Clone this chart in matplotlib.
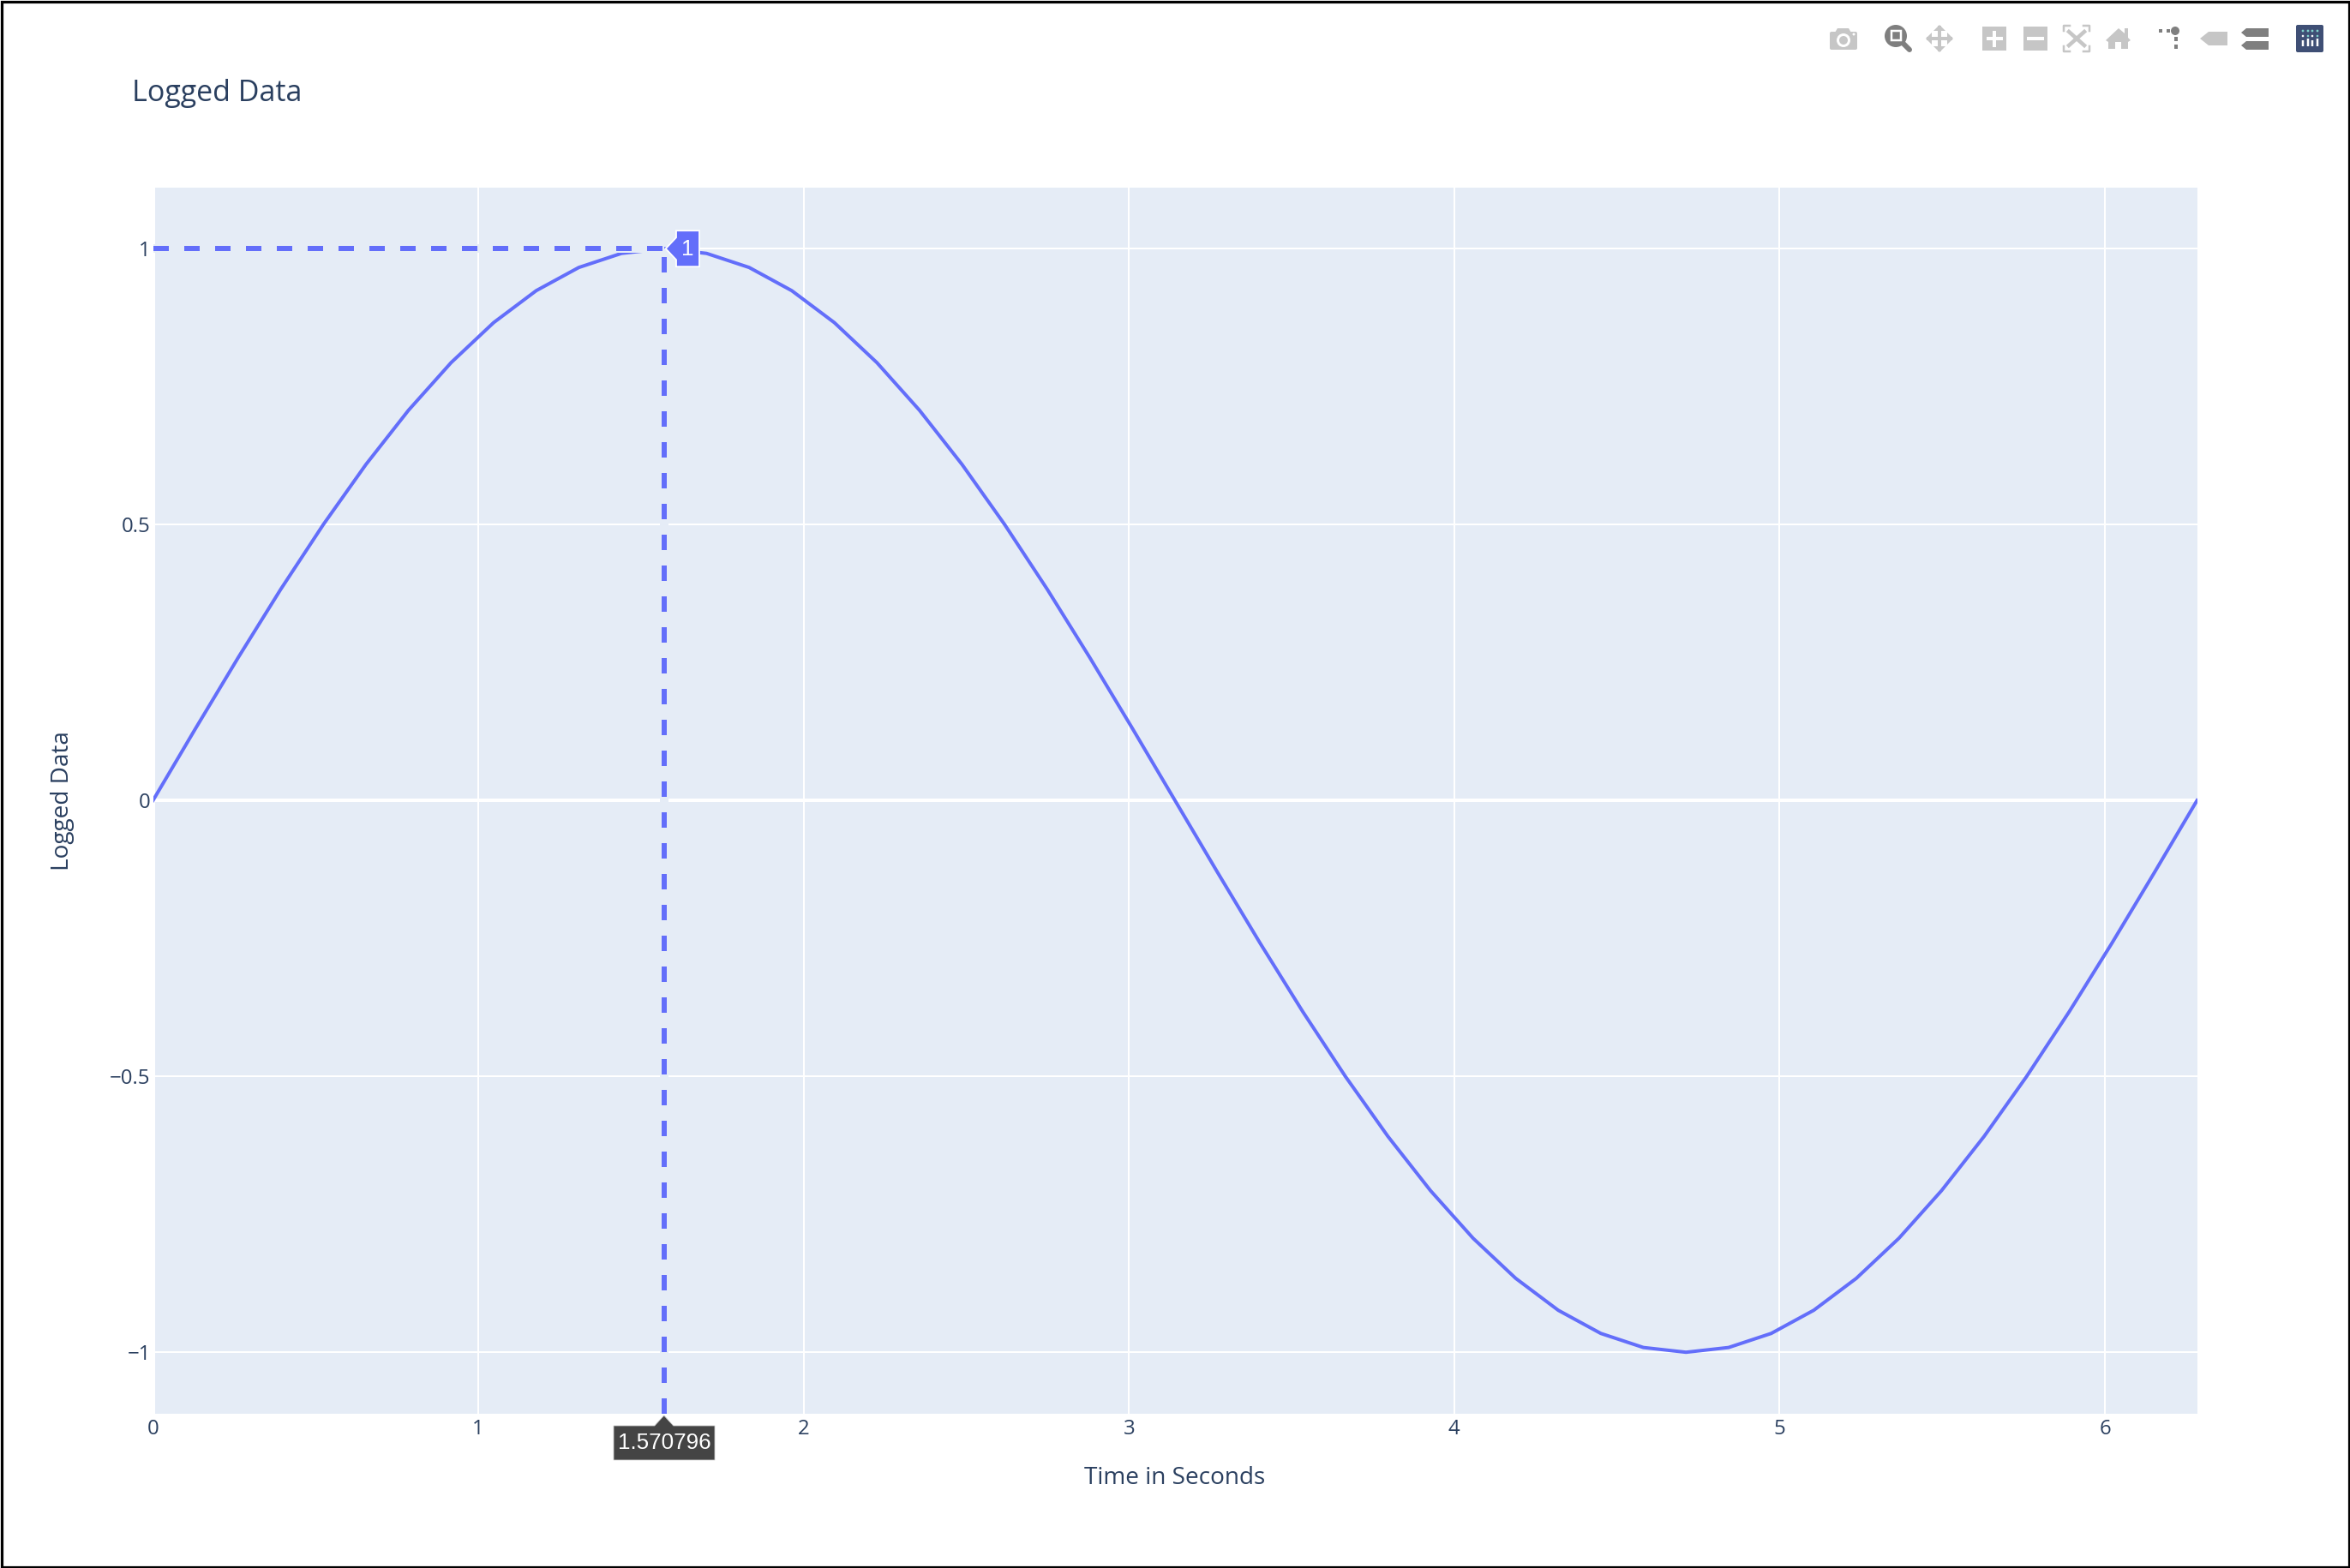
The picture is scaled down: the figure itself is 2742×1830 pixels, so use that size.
import matplotlib
matplotlib.use("Agg")
import matplotlib.pyplot as plt
from matplotlib.patches import Polygon, Rectangle, Circle, FancyBboxPatch

W, H = 2742, 1830
DPI = 100
PX = 72 / DPI

# ---- data ----
time_s = [0.0, 0.1309, 0.2618, 0.3927, 0.5236, 0.6545, 0.7854, 0.9163, 1.0472, 1.1781,
          1.309, 1.4399, 1.5708, 1.7017, 1.8326, 1.9635, 2.0944, 2.2253, 2.3562, 2.4871,
          2.618, 2.7489, 2.8798, 3.0107, 3.1416, 3.2725, 3.4034, 3.5343, 3.6652, 3.7961,
          3.927, 4.0579, 4.1888, 4.3197, 4.4506, 4.5815, 4.7124, 4.8433, 4.9742, 5.1051,
          5.236, 5.3669, 5.4978, 5.6287, 5.7596, 5.8905, 6.0214, 6.1523, 6.2832]
logged = [0.0, 0.1305, 0.2588, 0.3827, 0.5, 0.6088, 0.7071, 0.7934, 0.866, 0.9239,
          0.9659, 0.9914, 1.0, 0.9914, 0.9659, 0.9239, 0.866, 0.7934, 0.7071, 0.6088,
          0.5, 0.3827, 0.2588, 0.1305, 0.0, -0.1305, -0.2588, -0.3827, -0.5, -0.6088,
          -0.7071, -0.7934, -0.866, -0.9239, -0.9659, -0.9914, -1.0, -0.9914, -0.9659, -0.9239,
          -0.866, -0.7934, -0.7071, -0.6088, -0.5, -0.3827, -0.2588, -0.1305, 0.0]
x_ticks = [0, 1, 2, 3, 4, 5, 6]
x_labels = ["0", "1", "2", "3", "4", "5", "6"]
y_ticks = [-1, -0.5, 0, 0.5, 1]
y_labels = ["\u22121", "\u22120.5", "0", "0.5", "1"]
spike_x = 1.570796
spike_y = 1.0
spike_x_label = "1.570796"
spike_y_label = "1"
title = "Logged Data"
x_title = "Time in Seconds"
y_title = "Logged Data"

TRACE = "#636efa"
BG = "#e5ecf6"
INK = "#2a3f5f"
FONT = "Open Sans"

fig = plt.figure(figsize=(W / DPI, H / DPI), dpi=DPI, facecolor="white")

# plot area in pixels
L, R, T, B = 178.5, 2563.5, 219, 1650
XMAX = 6.2832
YUNIT = 644.0
YC = 934.2
ymax = (YC - T) / YUNIT
ymin = (YC - B) / YUNIT
ax = fig.add_axes([L / W, 1 - B / H, (R - L) / W, (B - T) / H], facecolor=BG)
ax.set_xlim(0, XMAX)
ax.set_ylim(ymin, ymax)
for s in ax.spines.values():
    s.set_visible(False)
ax.set_xticks(x_ticks)
ax.set_xticklabels(x_labels, fontsize=24 * PX, color=INK, family=FONT)
ax.set_yticks(y_ticks)
ax.set_yticklabels(y_labels, fontsize=24 * PX, color=INK, family=FONT)
ax.tick_params(axis="x", length=0, pad=4)
ax.tick_params(axis="y", length=0, pad=2)
ax.grid(True, color="white", lw=2 * PX, zorder=1)
ax.set_axisbelow(True)
ax.axhline(0, color="white", lw=4 * PX, zorder=1.5)
ax.axvline(0, color="white", lw=4 * PX, zorder=1.5)

ax.plot(time_s, logged, color=TRACE, lw=4 * PX, zorder=3, solid_joinstyle="round", clip_on=True)

# spike lines: background coloured underlay, dashed line on top
dash = (0, (18 / 6.0, 18 / 6.0))
ax.plot([0, spike_x], [spike_y, spike_y], color=BG, lw=10 * PX, zorder=4, solid_capstyle="butt", clip_on=False)
ax.plot([spike_x, spike_x], [ymin, spike_y], color=BG, lw=10 * PX, zorder=4, solid_capstyle="butt", clip_on=False)
ax.plot([0, spike_x], [spike_y, spike_y], color=TRACE, lw=6 * PX, ls=dash, dash_capstyle="butt", zorder=5, clip_on=False)
ax.plot([spike_x, spike_x], [ymin, spike_y], color=TRACE, lw=6 * PX, ls=dash, dash_capstyle="butt", zorder=5, clip_on=False)

# overlay in pixel coordinates for annotation furniture
ov = fig.add_axes([0, 0, 1, 1], facecolor="none")
ov.set_xlim(0, W)
ov.set_ylim(H, 0)
ov.axis("off")

# frame
ov.add_patch(Rectangle((1.5, 1.5), W - 3, H - 3, fill=False, ec="black", lw=3.2 * PX))

# spike labels
sx = L + spike_x / XMAX * (R - L)
sy = YC - spike_y * YUNIT
ov.add_patch(Polygon([(sx + 2, sy), (789, sy - 13), (789, sy - 21), (816, sy - 21), (816, sy + 21), (789, sy + 21), (789, sy + 13)],
                     closed=True, fc=TRACE, ec="white", lw=1.8 * PX, zorder=6))
ov.text(802, sy + 1, spike_y_label, color="white", fontsize=26 * PX, family="Liberation Sans", ha="center", va="center", zorder=7)
ov.add_patch(Polygon([(sx, 1652), (sx + 11, 1664), (834, 1664), (834, 1704), (716, 1704), (716, 1664), (sx - 11, 1664)],
                     closed=True, fc="#444444", ec="#cccccc", lw=0.8 * PX, zorder=6))
ov.text((716 + 834) / 2, 1684, spike_x_label, color="white", fontsize=26 * PX, family="Liberation Sans", ha="center", va="center", zorder=7)

# titles
ov.text(154, 109.5, title, color=INK, fontsize=34 * PX, family=FONT, ha="left", va="center")
ov.text(1371, 1725, x_title, color=INK, fontsize=28 * PX, family=FONT, ha="center", va="center")
ov.text(73, 934.5, y_title, color=INK, fontsize=28 * PX, family=FONT, ha="center", va="center", rotation=90)

# toolbar icons
G = "#c6c6c6"
D = "#7f7f7f"
# camera
ov.add_patch(FancyBboxPatch((2135, 37), 32, 21, boxstyle="round,pad=0,rounding_size=2", fc=G, ec="none"))
ov.add_patch(Polygon([(2141, 38), (2144, 33), (2157, 33), (2160, 38)], fc=G, ec="none"))
ov.add_patch(Circle((2151, 47), 8, fc="white", ec="none"))
ov.add_patch(Circle((2151, 47), 5, fc=G, ec="none"))
ov.add_patch(Circle((2163, 40), 1.5, fc="white", ec="none"))
# zoom (active)
ov.plot([2221, 2228], [51, 58], color=D, lw=6 * PX, solid_capstyle="round")
ov.add_patch(Circle((2212, 42), 13, fc=D, ec="none"))
ov.add_patch(Rectangle((2207, 36), 11, 11, fc=D, ec="white", lw=2.5 * PX))
# pan
ov.plot([2250, 2276], [45, 45], color=G, lw=4 * PX)
ov.plot([2263, 2263], [32, 58], color=G, lw=4 * PX)
for p in ([(2263, 29), (2256, 36), (2270, 36)], [(2263, 61), (2256, 54), (2270, 54)],
          [(2247, 45), (2254, 38), (2254, 52)], [(2279, 45), (2272, 38), (2272, 52)]):
    ov.add_patch(Polygon(p, fc=G, ec="none"))
# plus
ov.add_patch(Rectangle((2313, 31), 28, 28, fc=G, ec="none"))
ov.plot([2319.5, 2334.5], [45, 45], color="white", lw=4 * PX)
ov.plot([2327, 2327], [37.5, 52.5], color="white", lw=4 * PX)
# minus
ov.add_patch(Rectangle((2361, 31), 28, 28, fc=G, ec="none"))
ov.plot([2367, 2383], [45, 45], color="white", lw=4 * PX)
# autoscale
for xs, ys in (([2408, 2408, 2415], [36, 30, 30]), ([2431, 2438, 2438], [30, 30, 36]),
               ([2408, 2408, 2415], [54, 60, 60]), ([2431, 2438, 2438], [60, 60, 54])):
    ov.plot(xs, ys, color=G, lw=2.5 * PX)
ov.plot([2414, 2432], [37, 53], color=G, lw=4.5 * PX)
ov.plot([2432, 2414], [37, 53], color=G, lw=4.5 * PX)
# home
ov.add_patch(Polygon([(2472, 33), (2457, 47), (2460, 49), (2460, 57), (2468, 57), (2468, 49), (2475, 49),
                      (2475, 57), (2483, 57), (2483, 49), (2486, 47), (2483, 44), (2483, 33), (2479, 33), (2479, 39)],
                     fc=G, ec="none"))
# spike toggle
ov.add_patch(Rectangle((2519, 34), 4, 4, fc=D, ec="none"))
ov.add_patch(Rectangle((2528, 34), 4, 4, fc=D, ec="none"))
ov.add_patch(Circle((2538, 36), 5, fc=D, ec="none"))
ov.add_patch(Rectangle((2537, 43), 4, 4.5, fc=D, ec="none"))
ov.add_patch(Rectangle((2537, 52), 4, 4.5, fc=D, ec="none"))
# closest tag
ov.add_patch(Polygon([(2567, 45), (2577, 37), (2599, 37), (2599, 53), (2577, 53)], fc=G, ec="none"))
# compare tags
ov.add_patch(Polygon([(2615, 38), (2621, 33), (2647, 33), (2647, 43), (2621, 43)], fc=D, ec="none"))
ov.add_patch(Polygon([(2615, 53), (2621, 48), (2647, 48), (2647, 58), (2621, 58)], fc=D, ec="none"))
# logo
ov.add_patch(FancyBboxPatch((2679, 29), 32, 32, boxstyle="round,pad=0,rounding_size=2", fc="#3f4f75", ec="none"))
for bx, top, second in ((2687, 47, "white"), (2693, 45, "#7fd1cc"), (2698, 47, "white"), (2704, 45, "#7fd1cc")):
    ov.plot([bx, bx], [top, 54], color="white", lw=2.5 * PX, solid_capstyle="butt")
    ov.add_patch(Circle((bx, 36), 1.4, fc="#7fd1cc", ec="none"))
    ov.add_patch(Circle((bx, 42), 1.3, fc=second, ec="none"))

fig.savefig("out.png", dpi=DPI, facecolor="white")
